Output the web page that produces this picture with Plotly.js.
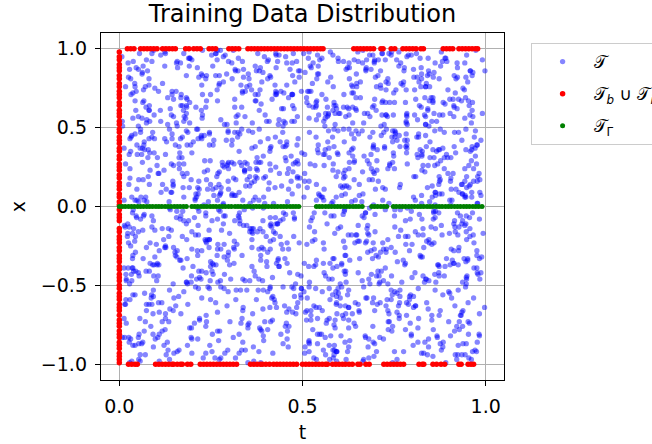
<!DOCTYPE html>
<html>
<head>
<meta charset="utf-8">
<script src="https://cdn.plot.ly/plotly-3.0.1.min.js"></script>
<style>html,body{margin:0;padding:0;background:#fff;overflow:hidden;}</style>
</head>
<body>
<div id="chart" style="width:652px;height:444px;"></div>
<script>
// Interior collocation points (t, x)
const blueT = [
.031,.572,.214,.883,.457,.693,.148,.921,.366,.715,.284,.097,.836,.511,.642,.173,.958,.429,.764,.335,
.612,.247,.905,.058,.781,.396,.523,.164,.839,.472,.019,.687,.351,.946,.205,.568,.733,.124,.497,.872,
.446,.813,.092,.634,.277,.979,.185,.552,.718,.339,.861,.423,.066,.295,.597,.149,.904,.751,.382,.626,
.258,.044,.675,.392,.936,.517,.823,.106,.461,.784,.139,.958,.573,.227,.312,.846,.481,.699,.015,.667,
.907,.361,.128,.749,.586,.032,.284,.673,.815,.453,.538,.219,.397,.074,.963,.625,.176,.884,.742,.301,
.079,.734,.486,.213,.651,.899,.342,.527,.168,.971,.406,.782,.063,.619,.255,.933,.541,.118,.357,.808,
.695,.158,.827,.544,.023,.371,.916,.439,.702,.286,.867,.325,.611,.192,.478,.749,.057,.563,.984,.236,
.523,.987,.307,.061,.842,.604,.475,.733,.196,.382,.249,.655,.928,.414,.137,.081,.766,.342,.593,.889,
.356,.612,.945,.489,.117,.268,.753,.008,.584,.827,.694,.473,.232,.859,.046,.371,.626,.915,.165,.518,
.181,.447,.569,.976,.334,.825,.091,.648,.263,.712,.958,.032,.394,.743,.586,.207,.861,.529,.676,.104,
.764,.298,.036,.622,.891,.153,.507,.381,.948,.065,.319,.876,.455,.168,.714,.592,.243,.037,.809,.946,
.428,.803,.653,.271,.506,.734,.967,.192,.031,.449,.587,.215,.771,.903,.362,.488,.126,.665,.254,.982,
.617,.072,.394,.838,.246,.589,.411,.905,.763,.157,.043,.539,.682,.327,.871,.926,.308,.794,.443,.211,
.975,.531,.183,.709,.062,.348,.869,.277,.626,.814,.696,.124,.953,.582,.047,.263,.758,.413,.135,.584,
.205,.658,.912,.437,.784,.113,.225,.562,.398,.681,.371,.845,.497,.736,.619,.053,.989,.172,.921,.466,
.843,.386,.547,.019,.329,.964,.701,.816,.488,.273,.523,.266,.089,.447,.198,.836,.641,.559,.307,.728,
.331,.926,.274,.595,.655,.802,.042,.144,.937,.508,.176,.713,.362,.029,.943,.567,.284,.696,.848,.071,
.562,.117,.763,.881,.197,.443,.357,.629,.081,.345,.899,.402,.627,.808,.304,.717,.131,.987,.463,.349,
.093,.479,.616,.226,.931,.677,.592,.738,.225,.973,.637,.058,.246,.971,.511,.383,.919,.242,.577,.615,
.719,.843,.009,.344,.473,.257,.159,.016,.854,.554,.442,.987,.819,.541,.862,.198,.476,.803,.094,.883,
.286,.094,.742,.617,.385,.928,.834,.473,.616,.187,.014,.563,.728,.294,.379,.652,.946,.118,.785,.254,
.938,.651,.327,.109,.826,.541,.276,.905,.363,.728,.785,.312,.154,.683,.922,.039,.427,.574,.859,.136,
.147,.386,.858,.768,.052,.394,.684,.249,.957,.031,.463,.876,.597,.043,.216,.751,.325,.684,.018,.407,
.571,.797,.489,.245,.703,.186,.028,.634,.485,.846,.232,.149,.943,.379,.707,.472,.866,.237,.543,.976,
.412,.223,.071,.934,.618,.863,.547,.362,.116,.409,.697,.821,.366,.836,.055,.294,.592,.013,.672,.721,
.859,.532,.696,.386,.252,.017,.918,.075,.781,.668,.144,.405,.033,.513,.491,.887,.133,.768,.336,.453,
.034,.963,.223,.521,.439,.755,.315,.853,.576,.292,.925,.583,.691,.268,.804,.614,.704,.458,.927,.082,
.693,.174,.911,.053,.967,.336,.482,.691,.224,.935,.356,.068,.829,.958,.147,.183,.279,.847,.114,.598,
.248,.841,.432,.711,.168,.559,.646,.124,.893,.544,.081,.748,.277,.412,.569,.329,.953,.531,.789,.302,
.785,.609,.144,.287,.799,.241,.098,.586,.336,.183,.619,.993,.457,.176,.737,.961,.419,.075,.253,.645,
.126,.318,.667,.836,.393,.904,.767,.217,.052,.762,.207,.434,.109,.597,.328,.053,.836,.691,.481,.919,
.503,.742,.957,.458,.612,.079,.373,.944,.698,.427,.872,.267,.764,.893,.618,.506,.148,.224,.864,.027,
.952,.067,.381,.172,.028,.698,.216,.413,.269,.815,.512,.726,.353,.036,.975,.774,.592,.947,.315,.536,
.337,.518,.806,.593,.874,.343,.583,.785,.937,.082,.039,.156,.589,.314,.171,.286,.065,.356,.678,.783,
.671,.913,.231,.049,.476,.797,.951,.301,.544,.607,.883,.475,.936,.752,.429,.853,.722,.405,.146,.198,
.081,.277,.524,.917,.236,.465,.128,.861,.074,.991,.307,.626,.214,.491,.845,.637,.386,.813,.591,.412,
.436,.635,.765,.376,.652,.183,.692,.034,.627,.246,.734,.054,.811,.142,.096,.219,.911,.175,.037,.869,
.884,.143,.082,.744,.922,.616,.343,.531,.189,.469,.162,.944,.402,.669,.541,.965,.478,.557,.729,.261,
.217,.456,.319,.628,.091,.856,.879,.693,.421,.713,.583,.367,.037,.984,.278,.434,.097,.268,.853,.634,
.628,.838,.977,.209,.541,.029,.478,.158,.863,.338,.821,.519,.694,.233,.767,.081,.652,.923,.493,.008,
.745,.027,.587,.454,.315,.374,.013,.877,.726,.561,.245,.719,.469,.857,.352,.597,.208,.738,.311,.957,
.163,.901,.426,.807,.758,.934,.654,.377,.043,.215,.946,.084,.288,.559,.913,.037,.766,.354,.607,.538,
.594,.324,.719,.137,.209,.563,.289,.518,.955,.797,.448,.658,.129,.022,.626,.821,.441,.089,.889,.174,
.026,.673,.139,.298,.873,.213,.829,.246,.681,.095,.613,.393,.874,.721,.163,.391,.599,.863,.044,.728,
.829,.553,.862,.693,.447,.752,.107,.941,.324,.421,.056,.873,.317,.412,.795,.692,.147,.512,.786,.439,
.371,.185,.313,.943,.134,.086,.573,.067,.572,.665,.783,.241,.962,.637,.066,.273,.925,.627,.249,.862,
.966,.786,.655,.516,.684,.412,.923,.626,.873,.298,.198,.537,.565,.189,.484,.914,.387,.184,.558,.093,
.453,.432,.048,.225,.942,.644,.236,.425,.152,.834,.687,.107,.241,.949,.586,.141,.815,.972,.392,.337,
.197,.897,.504,.779,.275,.991,.777,.808,.462,.073,.364,.797,.681,.332,.238,.557,.052,.678,.964,.724,
.638,.064,.948,.362,.597,.327,.458,.192,.717,.555,.924,.453,.082,.794,.706,.473,.678,.429,.102,.579,
.253,.586,.287,.857,.015,.518,.068,.534,.983,.267,.612,.024,.847,.518,.931,.029,.264,.593,.733,.165,
.894,.711,.627,.093,.728,.873,.644,.273,.297,.925,.142,.672,.384,.267,.147,.819,.977,.236,.447,.812,
.546,.218,.831,.583,.362,.156,.399,.956,.598,.421,.477,.913,.527,.628,.356,.646,.534,.746,.074,.286,
.103,.968,.457,.411,.831,.778,.833,.126,.046,.678,.758,.342,.158,.103,.874,.393,.059,.324,.851,.639,
.759,.348,.068,.724,.528,.296,.184,.676,.766,.185,.293,.589,.715,.978,.513,.238,.697,.891,.543,.037,
.417,.789,.746,.238,.191,.607,.726,.459,.373,.844,.976,.177,.289,.573,.648,.781,.411,.168,.217,.943,
.977,.124,.377,.948,.663,.043,.512,.833,.817,.586,.504,.836,.926,.411,.023,.521,.856,.462,.623,.315,
.214,.663,.191,.505,.089,.823,.937,.311,.202,.048,.667,.428,.052,.784,.692,.108,.344,.612,.977,.496,
.655,.472,.903,.083,.414,.364,.271,.584,.536,.397,.083,.721,.449,.238,.337,.962,.626,.073,.389,.784,
.318,.035,.602,.672,.946,.702,.057,.227,.909,.752,.378,.264,.603,.856,.806,.416,.172,.983,.744,.126,
.142,.583,.826,.364,.071,.497,.719,.255,.938,.612,.403,.176,.857,.034,.681,.529,.298,.765,.117,.946,
.688,.217,.459,.902,.341,.614,.053,.786,.227,.495,.962,.321,.144,.573,.838,.416,.007,.652,.887,.269,
.374,.951,.132,.567,.804,.236,.695,.418,.061,.879,.547,.089,.762,.284,.356,.983,.621,.198,.436,.729,
.829,.046,.603,.273,.519,.889,.381,.157,.746,.334,.224,.858,.471,.699,.013,.148,.537,.914,.268,.392,
.486,.736,.298,.045,.961,.172,.844,.593,.407,.127,.792,.637,.031,.915,.258,.743,.382,.064,.575,.851,
.057,.308,.879,.647,.214,.732,.108,.961,.537,.426,.376,.523,.696,.104,.487,.297,.862,.441,.948,.605,
.915,.478,.361,.184,.688,.026,.562,.327,.871,.769,.623,.249,.913,.856,.167,.641,.084,.728,.319,.029,
.263,.824,.691,.954,.427,.389,.935,.641,.193,.034,.156,.968,.394,.317,.703,.882,.519,.236,.668,.776,
.604,.137,.043,.419,.863,.553,.246,.087,.675,.984,.935,.077,.554,.612,.924,.043,.727,.982,.109,.474,
.742,.591,.517,.785,.112,.948,.475,.818,.308,.219,.471,.348,.826,.253,.436,.575,.195,.369,.845,.538,
.167,.269,.978,.089,.343,.665,.706,.392,.834,.571,.268,.746,.163,.783,.068,.329,.952,.623,.487,.803,
.413,.866,.229,.627,.782,.296,.153,.723,.017,.452,.846,.588,.409,.486,.645,.779,.246,.101,.702,.187,
.976,.054,.586,.314,.493,.825,.902,.176,.564,.697,.019,.192,.977,.069,.859,.514,.384,.457,.927,.323,
.327,.717,.412,.854,.636,.078,.371,.947,.256,.122,.538,.914,.268,.736,.297,.158,.664,.853,.027,.646,
.856,.368,.746,.527,.025,.484,.615,.498,.943,.386,.683,.433,.617,.374,.543,.906,.093,.276,.561,.418,
.536,.908,.135,.201,.752,.923,.268,.064,.714,.826,.803,.063,.733,.947,.183,.687,.825,.594,.334,.758,
.084,.451,.673,.956,.381,.208,.817,.643,.137,.249,.294,.776,.121,.215,.825,.448,.038,.733,.877,.214,
.697,.176,.307,.663,.843,.557,.038,.332,.486,.597,.906,.349,.883,.523,.609,.277,.561,.169,.425,.965,
.225,.634,.887,.432,.185,.753,.436,.881,.792,.048,.457,.629,.018,.674,.364,.972,.707,.401,.065,.583,
.951,.025,.558,.109,.578,.335,.967,.211,.316,.917,.126,.227,.541,.366,.738,.105,.313,.896,.751,.371,
.381,.799,.196,.748,.943,.641,.586,.757,.074,.518,.662,.983,.297,.836,.095,.616,.897,.225,.634,.089,
.618,.282,.935,.582,.264,.017,.148,.428,.963,.679,.385,.519,.841,.092,.462,.839,.186,.538,.198,.842,
.113,.538,.426,.037,.707,.862,.792,.045,.594,.248,.052,.166,.648,.557,.954,.339,.459,.775,.914,.447,
.788,.945,.664,.314,.496,.163,.354,.614,.872,.389,.751,.876,.429,.276,.183,.704,.062,.641,.351,.726,
.454,.088,.097,.876,.132,.593,.927,.281,.426,.809,.577,.404,.095,.709,.816,.256,.781,.013,.506,.272,
.196,.627,.824,.507,.656,.783,.063,.937,.155,.552,.238,.713,.964,.356,.583,.947,.337,.571,.844,.618,
.887,.236,.285,.752,.411,.329,.731,.518,.701,.106,.947,.069,.559,.938,.237,.425,.647,.916,.138,.058,
.334,.754,.539,.168,.825,.955,.234,.176,.297,.998,.446,.841,.183,.471,.672,.125,.211,.339,.694,.533,
.568,.405,.997,.616,.028,.462,.518,.817,.868,.362,.318,.272,.786,.607,.042,.848,.506,.682,.405,.917,
.036,.874,.372,.273,.589,.074,.873,.393,.052,.693,.809,.603,.351,.024,.902,.581,.969,.122,.781,.283
];
const blueX = [
-.84,.37,.12,-.56,.91,-.23,.68,-.97,.04,-.41,.79,-.15,.52,-.72,.29,-.03,.86,-.64,.45,-.31,
.63,-.88,.18,.47,-.36,.95,-.09,.24,-.61,.71,-.47,.33,-.99,.06,-.74,.57,-.21,.89,-.52,.14,
-.27,.82,-.68,.03,.55,-.43,.39,-.81,.97,-.12,.26,-.59,.74,-.34,.48,-.93,.16,-.06,.61,-.77,
.42,-.19,.93,-.65,.08,-.38,.76,.21,-.89,.58,-.02,.35,-.71,.99,-.26,.67,-.49,.11,-.83,.53,
-.58,.15,-.94,.72,-.33,.44,-.11,.87,.31,-.76,.64,-.45,.02,-.62,.83,-.18,.27,-.86,.96,-.37,
.19,-.73,.57,-.28,.98,-.54,.23,-.07,.69,-.91,.43,-.24,.85,-.48,.11,-.69,.36,.78,-.14,.04,
-.95,.51,-.32,.84,-.17,.06,-.63,.41,-.44,.25,-.82,.94,-.05,.66,-.57,.32,-.98,.59,.09,-.22,
.73,-.42,.28,-.87,.61,-.13,.97,-.66,.17,.49,-.35,.07,-.78,.38,-.01,.81,-.53,.22,-.92,.65,
-.16,.92,-.51,.13,-.79,.67,-.29,.54,-.96,.35,.01,-.67,.45,-.23,.88,-.44,.62,-.09,.34,-.85,
.56,-.08,.79,-.39,.26,-.93,.47,-.18,.83,-.61,.14,.71,-.27,.98,-.75,.05,-.43,.91,-.58,.31,
-.71,.24,-.17,.63,-.99,.39,.85,-.46,.12,-.33,.57,-.87,.29,-.06,.75,-.62,.03,-.39,.68,-.11,
.88,-.57,.46,-.02,.33,-.78,.16,.94,-.25,.72,-.91,.08,-.48,.59,-.14,.43,-.68,.99,-.36,.21,
-.43,.06,-.85,.78,-.21,.52,-.64,.31,.89,-.03,-.56,.67,.17,-.93,.36,-.28,.81,-.74,.13,.49,
.27,-.96,.64,-.49,.84,-.12,-.37,.09,-.72,.55,.92,-.26,-.81,.44,-.07,.97,-.55,.23,-.19,.76,
-.07,.69,-.36,.21,-.61,.96,.43,-.83,.58,-.18,.38,-.47,.73,.02,-.97,.17,-.32,.64,-.76,.87,
.94,-.31,.07,-.74,.46,-.04,.61,-.52,.27,.83,-.66,.19,-.13,.51,-.84,.76,.28,-.42,.91,-.63,
-.53,.47,-.79,.34,.14,-.88,-.22,.73,-.09,-.67,.06,.86,-.38,-.59,.24,-.11,.95,-.27,.41,-.94,
.36,-.14,.98,-.18,-.44,.62,.02,-.34,.77,.13,-.73,.54,.91,-.16,-.46,.58,-.86,.07,-.65,.27,
-.89,.79,-.26,.56,-.06,.29,-.92,.66,-.41,.99,.32,-.08,-.52,.37,.69,-.77,.11,-.51,.82,-.02,
.12,-.65,.51,-.91,.71,-.37,.88,-.13,.06,-.54,-.24,.42,.64,-.71,.09,.34,-.19,.87,-.44,.58,
-.32,.99,-.59,.08,.41,-.73,.22,.64,-.86,.47,-.12,-.94,.79,.26,-.53,.92,-.35,.14,.57,-.81,
.75,-.22,.35,-.67,-.08,.84,-.47,.01,.53,-.29,.95,.18,-.63,-.01,.62,-.41,.73,-.97,.31,.03,
-.66,.28,-.04,.91,-.83,.18,.57,-.38,-.14,.81,-.76,.49,.33,-.88,-.18,.66,-.06,.44,-.59,.93,
.48,-.81,.86,-.15,.29,-.49,-.99,.77,.39,-.23,.22,-.58,.06,.71,-.32,.08,.54,-.69,.89,-.28,
-.12,.44,-.73,.67,-.41,.07,.93,-.26,-.61,.15,.68,-.31,-.89,.52,.97,-.63,.19,.37,-.04,-.47,
.85,-.04,.21,-.34,.96,-.62,.34,.55,-.78,-.07,.46,.81,-.43,.12,-.23,.47,-.91,-.15,.73,.38,
-.98,.61,-.46,.27,-.19,.74,-.09,-.72,.98,.42,-.37,.03,.63,-.67,.82,-.03,.36,-.84,-.26,.14,
.22,-.39,.68,.03,-.58,.92,-.68,.17,.45,-.94,.13,-.79,.26,.86,-.49,.59,-.15,.76,.09,-.55,
-.47,.83,-.11,-.83,.64,-.27,.48,.98,-.33,.08,-.62,.58,-.96,-.22,.41,-.11,.67,-.38,.96,-.73,
.59,-.69,.43,.52,-.24,.11,-.84,-.06,.72,-.48,.87,-.17,.39,.19,-.73,.29,-.57,.03,-.92,.62,
-.25,.17,-.97,.76,.32,-.82,.14,-.41,.87,-.63,.04,.52,-.28,.94,-.04,-.87,.45,-.61,.28,.81,
.97,-.53,.58,-.23,-.71,.36,.67,-.94,-.05,.25,-.42,.74,-.69,.33,.57,.16,-.26,.84,-.48,-.13,
-.61,.39,-.27,.44,.87,-.16,-.52,.82,.21,-.86,.66,-.02,.48,-.33,-.92,.77,.06,-.45,.68,-.37,
.04,-.92,.74,-.61,.16,.57,-.33,.39,-.48,.64,-.14,.91,-.77,.07,.31,-.52,.89,.24,-.17,.46,
-.82,.57,.01,.33,-.52,-.03,.79,-.17,.58,-.36,-.89,.27,.14,-.54,.72,-.24,.47,-.78,.16,.93,
.43,-.27,.88,-.94,.63,-.42,.11,.48,-.66,.93,.39,-.64,-.01,.82,-.21,.53,-.99,.33,-.54,-.07,
-.38,.72,-.61,.18,-.12,.83,-.76,.06,.34,-.21,.78,-.44,.97,-.15,.43,-.72,.21,.61,-.31,.27,
.66,.09,-.41,-.79,.91,-.31,.28,-.63,.94,.16,-.57,.07,-.35,.59,-.81,.85,-.08,-.23,.49,-.96,
-.03,-.74,.53,.28,-.37,.69,-.91,.38,-.21,.77,.23,-.98,.56,-.46,.12,-.33,.75,.04,-.69,.36,
.81,-.46,.16,.63,-.87,.24,.54,-.28,.09,-.64,.94,-.13,-.58,.29,-.02,.61,-.42,.88,.18,-.83,
-.56,.33,-.88,-.05,.47,-.59,.04,.89,-.39,.51,-.26,.67,.32,-.78,.84,-.14,-.51,.26,.99,-.19,
.31,-.17,.71,-.42,-.97,.14,-.66,.23,.76,-.12,.49,-.36,-.93,.11,.64,-.56,.38,-.74,.07,.55,
-.92,.86,-.23,.49,.08,-.44,.96,-.51,.13,-.82,-.04,.79,.41,-.19,-.64,.36,-.81,.92,-.38,.12,
.14,-.58,.62,.11,-.69,.88,-.18,.46,-.96,.34,.71,-.53,.08,-.84,.27,-.47,.59,-.03,-.29,.74,
-.44,.94,-.07,-.86,.38,-.13,.73,-.33,.58,.02,-.71,.19,.86,-.27,-.56,.96,.14,-.66,.42,-.09,
.71,-.33,.27,.56,-.14,-.76,.31,.67,-.46,-.98,.53,-.21,.36,.63,-.06,.22,-.88,.49,-.59,.91,
-.18,.52,-.67,.94,-.49,.37,-.04,-.89,.81,.28,-.16,.44,-.74,-.09,.92,-.36,.65,-.21,.04,-.53,
.53,-.11,.39,-.28,.74,.04,-.93,.12,-.29,.69,.87,-.61,.23,-.44,.49,.09,-.77,.32,.85,-.66,
-.77,.21,-.54,.42,-.03,.59,.86,-.63,.24,-.41,-.01,.96,-.46,.77,-.23,-.91,.51,-.12,.66,.38,
.37,-.86,.96,-.16,.22,-.81,-.36,.53,.66,.06,-.94,.31,.61,-.08,-.41,.83,-.29,.71,-.47,.02,
-.09,.64,-.43,.82,-.62,.16,.41,-.21,-.82,.93,.18,-.39,.03,.56,-.69,.43,.97,-.57,.24,-.34,
.92,-.48,.24,-.09,.58,-.38,-.61,.78,.47,-.53,.27,-.83,.74,-.31,.13,-.05,-.42,.81,-.87,.44,
-.64,.11,-.93,.61,.37,-.07,.19,-.74,.92,-.16,.62,-.11,-.22,.88,-.47,.69,.26,-.99,.53,-.24,
.26,-.23,.77,-.52,-.26,.88,-.48,.33,-.06,.59,-.67,.23,.92,-.37,.36,-.82,.06,.47,-.13,.72,
-.35,.76,.04,.37,-.78,.27,.63,-.14,-.57,.21,.84,-.72,.45,.02,-.58,.17,-.66,.94,.39,-.88,
.68,-.62,.48,-.73,.12,-.51,.93,.03,.28,-.89,-.31,.57,-.06,-.52,.78,-.19,.35,-.34,.82,.16,
-.86,.43,-.16,.19,-.47,.67,-.24,.58,-.71,.38,.06,-.46,.68,.27,-.11,.89,-.95,.11,-.56,.63,
.49,-.06,.89,-.36,.97,-.32,.08,-.83,.41,.11,-.51,.96,-.16,-.69,.47,-.37,.73,-.22,.02,-.44,
-.22,.91,-.37,.54,-.11,.47,-.85,.27,.63,-.73,.34,-.27,.54,.83,-.86,.06,-.53,.63,-.79,.34,
.07,-.39,.59,-.04,.82,-.92,.37,.71,-.34,-.02,.97,.12,-.63,.36,.58,-.58,.21,-.08,.44,.97,
.58,-.91,.33,-.17,.76,-.52,.04,.89,-.66,.21,-.38,.97,-.08,.45,-.84,.63,-.29,.12,-.73,.36,
-.43,.16,-.79,.68,-.02,.41,-.97,.27,.83,-.56,.09,-.24,.71,-.88,.38,-.13,.95,-.62,.24,-.48,
.86,-.34,.52,-.72,.19,-.06,.64,-.45,.33,.98,-.81,.44,-.19,.02,.77,-.68,.13,-.93,.55,-.27,
-.14,.73,-.58,.07,-.87,.94,.28,-.32,-.76,.49,.61,-.03,-.51,.82,-.39,.26,-.64,.38,.99,-.09,
.29,-.68,.92,-.41,.53,-.19,-.84,.62,.11,-.26,-.57,.76,.35,-.79,.07,-.44,.86,-.15,-.36,.69,
-.94,.42,-.12,.84,-.31,.57,.21,-.97,.66,-.07,.31,-.69,.91,-.36,-.61,.48,.01,.73,-.21,-.82,
.47,-.07,.74,-.48,.24,-.83,.56,.09,-.37,.78,-.92,.14,-.28,.67,.43,-.74,-.23,.58,-.53,.18,
-.61,.88,-.33,.26,.97,-.26,-.67,.43,.94,-.47,.53,-.39,.06,-.96,.23,.92,-.48,-.04,.32,.79,
.13,-.53,.46,-.93,-.14,.71,.39,-.58,-.22,.17,-.11,.86,-.66,.49,-.18,.04,.66,-.81,-.98,.22,
-.26,.64,-.86,.37,.61,-.46,-.04,.79,.08,-.71,.71,-.53,.23,-.41,.96,-.59,.39,.16,.51,-.34,
.91,-.24,.19,-.62,-.47,.08,.83,-.16,-.86,.58,-.27,.41,-.91,.74,-.05,.28,-.73,.88,-.43,.06,
-.73,.35,-.96,.58,.38,-.91,-.31,.52,.27,-.33,.84,-.17,.54,.18,-.76,-.37,.47,-.24,.76,-.62,
.39,-.81,.66,-.27,.86,.02,-.55,-.09,.68,.93,-.46,-.77,.39,-.55,.59,.73,-.14,-.67,.09,.44,
-.07,.97,-.51,.13,-.68,.31,.67,-.87,-.43,.23,.14,.63,-.08,.97,-.31,-.92,.22,.54,-.86,-.18,
.66,-.41,.28,.78,-.23,-.64,.13,.34,-.12,-.78,.96,-.34,-.63,.24,.34,.11,-.57,.99,-.04,-.72,
-.52,.04,-.73,-.38,.48,.82,-.79,.66,.51,.32,-.64,.28,.81,-.49,-.11,-.28,.84,-.38,.63,.42,
.23,-.63,.86,-.07,-.92,-.18,.46,-.23,-.97,.71,.52,-.92,-.21,.43,.81,.62,-.02,-.49,.29,-.84,
-.87,.54,.07,.48,.26,-.36,.92,-.74,.19,-.52,-.27,.17,.37,-.72,.12,-.51,.33,.71,-.61,.57,
.77,-.18,-.44,.92,.68,.46,-.38,.08,-.59,.04,.41,-.85,-.43,.88,-.68,.48,.93,-.19,.17,-.39,
-.33,.82,.54,-.81,-.06,-.71,.24,-.46,.87,-.16,-.71,.58,.96,-.14,.27,-.83,-.36,.31,-.92,.89,
.04,-.45,-.83,.34,.91,.17,-.94,.93,-.26,.64,.03,-.33,-.54,.57,-.37,.19,.74,-.58,.46,-.06,
-.68,.26,.42,-.56,-.37,.76,.57,-.11,.38,-.89,.88,.47,.12,-.81,.69,-.22,-.88,.04,-.27,.62,
.54,-.97,-.17,.72,.16,-.53,-.28,.61,-.68,.29,-.42,-.08,.76,.33,-.96,.87,.21,-.34,.83,-.51,
-.19,.69,.91,-.22,-.58,.38,.81,-.41,-.04,.79,.24,-.66,-.36,.08,.48,-.62,.56,.93,-.77,.11,
.95,-.56,-.32,.17,.69,-.98,-.13,.28,.44,-.63,-.82,.92,.58,-.44,-.18,.39,-.09,-.71,.21,.77,
-.48,.12,.63,-.89,-.33,.54,.37,-.76,.73,.06,.67,-.29,-.92,.19,.96,-.06,-.46,.59,.86,-.31,
.31,-.76,-.06,.44,.83,-.09,-.59,.98,-.31,-.44,-.16,.36,.26,-.87,-.42,.77,.61,-.13,-.65,.49,
-.91,.47,.81,-.68,.07,.64,-.21,-.54,.16,.86,.47,-.94,.69,.54,-.23,-.78,.06,.82,.39,-.16,
.63,-.29,-.64,.23,-.49,-.27,.73,.44,-.83,-.21,-.59,.14,-.01,-.37,.78,.31,-.93,.27,-.54,.72,
-.04,.58,.19,-.97,.59,.93,-.44,-.01,.57,.37,.19,-.49,-.75,.91,.04,-.46,.44,-.88,.66,.01
];

// Boundary / initial points (red): x at t = 0, and t at x = +1 / x = -1
const redInitX = [-.99,-.97,-.95,-.93,-.9,-.88,-.86,-.83,-.81,-.79,-.76,-.74,-.72,-.69,-.66,-.64,-.62,-.59,-.57,-.55,-.52,-.5,-.47,-.45,-.43,-.4,-.38,-.35,-.33,-.31,-.28,-.26,-.23,-.21,-.19,-.16,-.14,-.09,-.07,-.05,-.02,.01,.03,.06,.08,.11,.13,.15,.18,.2,.23,.25,.27,.3,.32,.35,.37,.4,.42,.44,.47,.49,.52,.54,.57,.59,.61,.64,.66,.69,.71,.73,.76,.78,.81,.83,.86,.88,.9,.93,.95,.98];
const redTopT = [.022,.031,.04,.058,.067,.076,.085,.094,.103,.118,.127,.136,.145,.153,.181,.19,.203,.212,.221,.245,.254,.263,.299,.308,.317,.326,.351,.36,.369,.378,.387,.396,.405,.414,.423,.432,.441,.45,.459,.468,.477,.486,.495,.504,.513,.522,.531,.54,.549,.556,.64,.649,.658,.667,.676,.685,.694,.714,.72,.742,.752,.774,.783,.792,.801,.81,.823,.83,.884,.893,.902,.91,.927,.936,.945,.954,.963,.972,.978];
const redBottomT = [.025,.034,.043,.049,.099,.108,.117,.126,.135,.144,.148,.158,.167,.172,.186,.195,.221,.23,.239,.248,.257,.266,.275,.284,.293,.302,.311,.32,.358,.367,.376,.385,.391,.4,.41,.421,.43,.439,.448,.457,.466,.475,.484,.5,.509,.518,.527,.536,.545,.554,.563,.568,.582,.591,.6,.609,.617,.627,.636,.651,.657,.673,.682,.722,.731,.74,.749,.758,.767,.776,.818,.827,.831,.856,.866,.878,.888,.927,.933,.952,.96,.967];

// Interface points (green): t along x = 0
const greenT = [0,.008,.016,.025,.033,.041,.05,.058,.066,.075,.083,.091,.1,.108,.116,.125,.133,.141,.15,.158,.166,.175,.183,.198,.206,.214,.223,.231,.239,.248,.256,.264,.273,.281,.289,.298,.306,.316,.324,.332,.341,.349,.357,.366,.374,.382,.391,.399,.407,.416,.424,.432,.441,.449,.457,.466,.474,.482,.49,.538,.546,.554,.563,.571,.579,.588,.596,.604,.613,.621,.629,.638,.646,.654,.663,.689,.697,.705,.714,.722,.73,.748,.756,.765,.773,.781,.79,.798,.806,.815,.823,.831,.84,.848,.856,.865,.873,.881,.89,.898,.906,.915,.923,.931,.94,.948,.956,.965,.973,.981,.99];

const xTicks = [0, 0.5, 1];
const yTicks = [-1, -0.5, 0, 0.5, 1];
const names = ['𝒯', '𝒯<sub><i>b</i></sub> ∪ 𝒯<sub><i>i</i></sub>', '𝒯<sub>Γ</sub>'];

const redT = [].concat(redInitX.map(() => 0), redTopT, redBottomT);
const redX = [].concat(redInitX, redTopT.map(() => 1), redBottomT.map(() => -1));

const traces = [
  {type:'scatter', mode:'markers', x: blueT, y: blueX, name: names[0], legendgroup:'a',
   marker:{color:'rgba(0,0,255,0.48)', size:5.3, line:{width:0}}},
  {type:'scatter', mode:'markers', x: redT, y: redX, name: names[1], legendgroup:'b',
   marker:{color:'#ff0000', size:5.5, line:{width:0}}},
  {type:'scatter', mode:'markers', x: greenT, y: greenT.map(() => 0), name: names[2], legendgroup:'c',
   marker:{color:'#008000', size:5, line:{width:0}}}
];

const axisCommon = {
  ticks:'outside', ticklen:5, tickwidth:1.2, tickcolor:'black',
  showline:true, mirror:true, linecolor:'black', linewidth:1.2,
  showgrid:true, gridcolor:'#b0b0b0', gridwidth:1.1, zeroline:false,
  tickformat:'.1f', tickfont:{size:19, color:'black'}, ticklabelstandoff:4
};

const layout = {
  width:652, height:444,
  margin:{l:101, r:148, t:33, b:64, autoexpand:false},
  paper_bgcolor:'white', plot_bgcolor:'white',
  font:{family:'DejaVu Sans, sans-serif', size:19, color:'black'},
  title:{text:'Training Data Distribution', x:0.5, xref:'paper', xanchor:'center',
         y:1-14/444, yref:'container', yanchor:'middle', font:{size:24, color:'black'}},
  xaxis:Object.assign({}, axisCommon, {range:[-0.05,1.05], tickmode:'array', tickvals:xTicks,
         title:{text:'t', standoff:9, font:{size:19}}}),
  yaxis:Object.assign({}, axisCommon, {range:[-1.1,1.1], tickmode:'array', tickvals:yTicks,
         title:{text:'x', standoff:10, font:{size:19}}}),
  showlegend:true,
  legend:{x:1.066, xanchor:'left', y:0.971, yanchor:'top', bgcolor:'white',
          bordercolor:'#cccccc', borderwidth:1, font:{size:17}, tracegroupgap:7,
          itemwidth:52}
};

Plotly.newPlot('chart', traces, layout, {staticPlot:true, displayModeBar:false});
</script>
</body>
</html>
